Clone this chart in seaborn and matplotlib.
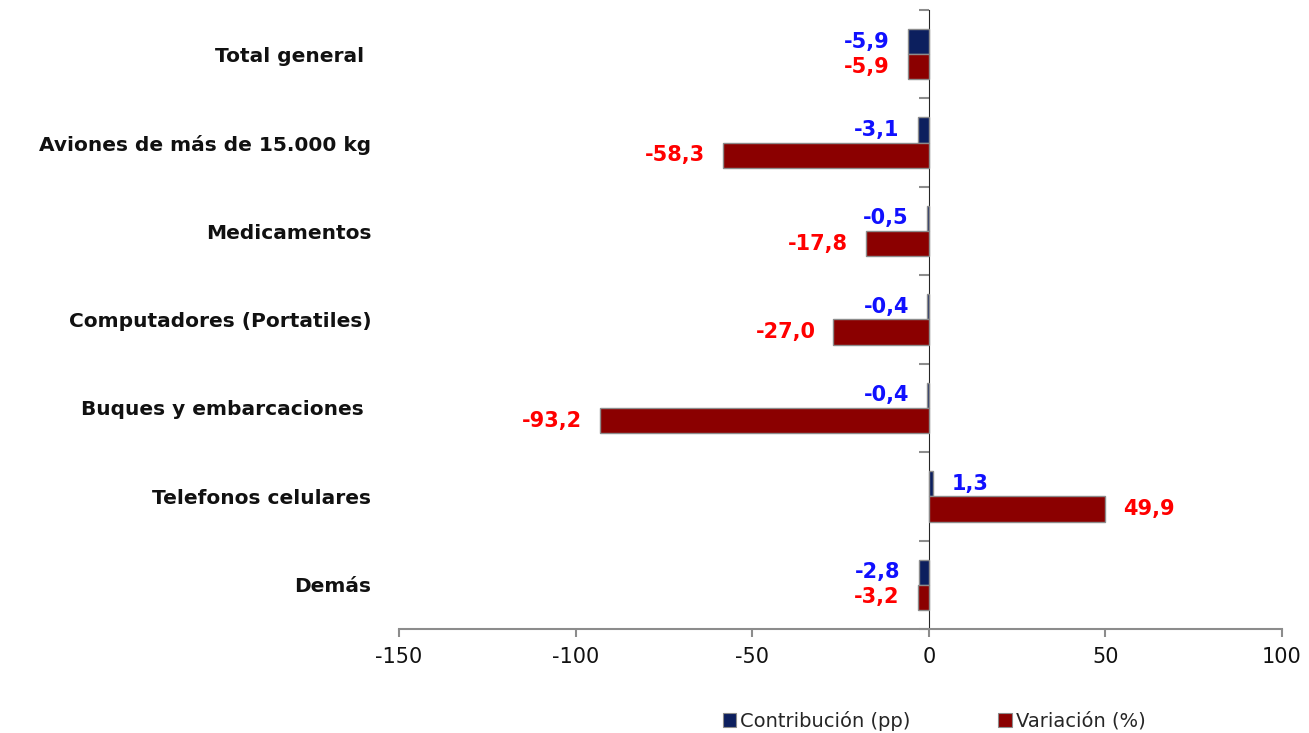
import matplotlib
matplotlib.use("Agg")
import matplotlib.pyplot as plt
from matplotlib.patches import Patch
import seaborn as sns
import pandas as pd
import numpy as np

categories = ["Total general ", "Aviones de más de 15.000 kg", "Medicamentos",
              "Computadores (Portatiles)", "Buques y embarcaciones ",
              "Telefonos celulares", "Demás"]
contribucion = [-5.9, -3.1, -0.5, -0.4, -0.4, 1.3, -2.8]
variacion = [-5.9, -58.3, -17.8, -27.0, -93.2, 49.9, -3.2]
series_names = ["Contribución (pp)", "Variación (%)"]
x_ticks = [-150, -100, -50, 0, 50, 100]

bar_colors = ["#0c1f5e", "#8b0000"]
label_colors = ["#1010ff", "#ff0000"]
gray = "#8c8c8c"

sns.set_style("white")
plt.rcParams["font.family"] = ["DejaVu Sans"]

df = pd.DataFrame({
    "cat": categories * 2,
    "val": contribucion + variacion,
    "serie": [series_names[0]] * len(categories) + [series_names[1]] * len(categories),
})

fig = plt.figure(figsize=(13.09, 7.33), dpi=100)
ax = fig.add_axes([0.3048, 0.1419, 0.6746, 0.8445])

sns.barplot(data=df, y="cat", x="val", hue="serie", hue_order=series_names,
            order=categories, orient="h", palette=bar_colors, saturation=1,
            width=0.57, errorbar=None, edgecolor=gray, linewidth=1, ax=ax,
            legend=False)

ax.set_xlim(x_ticks[0], x_ticks[-1])
ax.set_xticks(x_ticks)
ax.set_xticklabels([str(t) for t in x_ticks], fontsize=15, color="#111111")
ax.set_ylim(len(categories) - 0.5, -0.5)
ax.set_xlabel("")
ax.set_ylabel("")

for s in ["top", "right", "left"]:
    ax.spines[s].set_visible(False)
ax.spines["bottom"].set_color(gray)
ax.spines["bottom"].set_linewidth(1.5)
ax.tick_params(axis="x", direction="out", length=6, width=1.5, color=gray, pad=7, bottom=True)
ax.tick_params(axis="y", length=0, pad=20)
for lbl in ax.get_yticklabels():
    lbl.set_fontweight("bold")
    lbl.set_fontsize(14.5)
    lbl.set_color("#111111")

# vertical axis at zero with category-boundary ticks
x0, x1 = ax.get_xlim()
loc = (0 - x0) / (x1 - x0)
sec = ax.secondary_yaxis(loc)
sec.set_yticks(np.arange(-0.5, len(categories) + 0.5, 1.0))
sec.set_yticklabels([])
sec.tick_params(axis="y", direction="in", length=7, width=1.5, color=gray)
sec.spines["left"].set_color(gray)
sec.spines["left"].set_linewidth(1.5)

# value labels
all_vals = [contribucion, variacion]
for cont, vals, col in zip(ax.containers, all_vals, label_colors):
    ax.bar_label(cont, labels=[f"{v:.1f}".replace(".", ",") for v in vals],
                 padding=13, color=col, fontweight="bold", fontsize=15)

handles = [Patch(facecolor=c, edgecolor=gray, linewidth=0.8) for c in bar_colors]
fig.legend(handles, series_names, loc="center", bbox_to_anchor=(0.7135, 0.017),
           ncol=2, frameon=False, fontsize=14, handlelength=0.7, handleheight=0.7,
           handletextpad=0.2, columnspacing=4.5)

fig.savefig("out.png", dpi=100)
